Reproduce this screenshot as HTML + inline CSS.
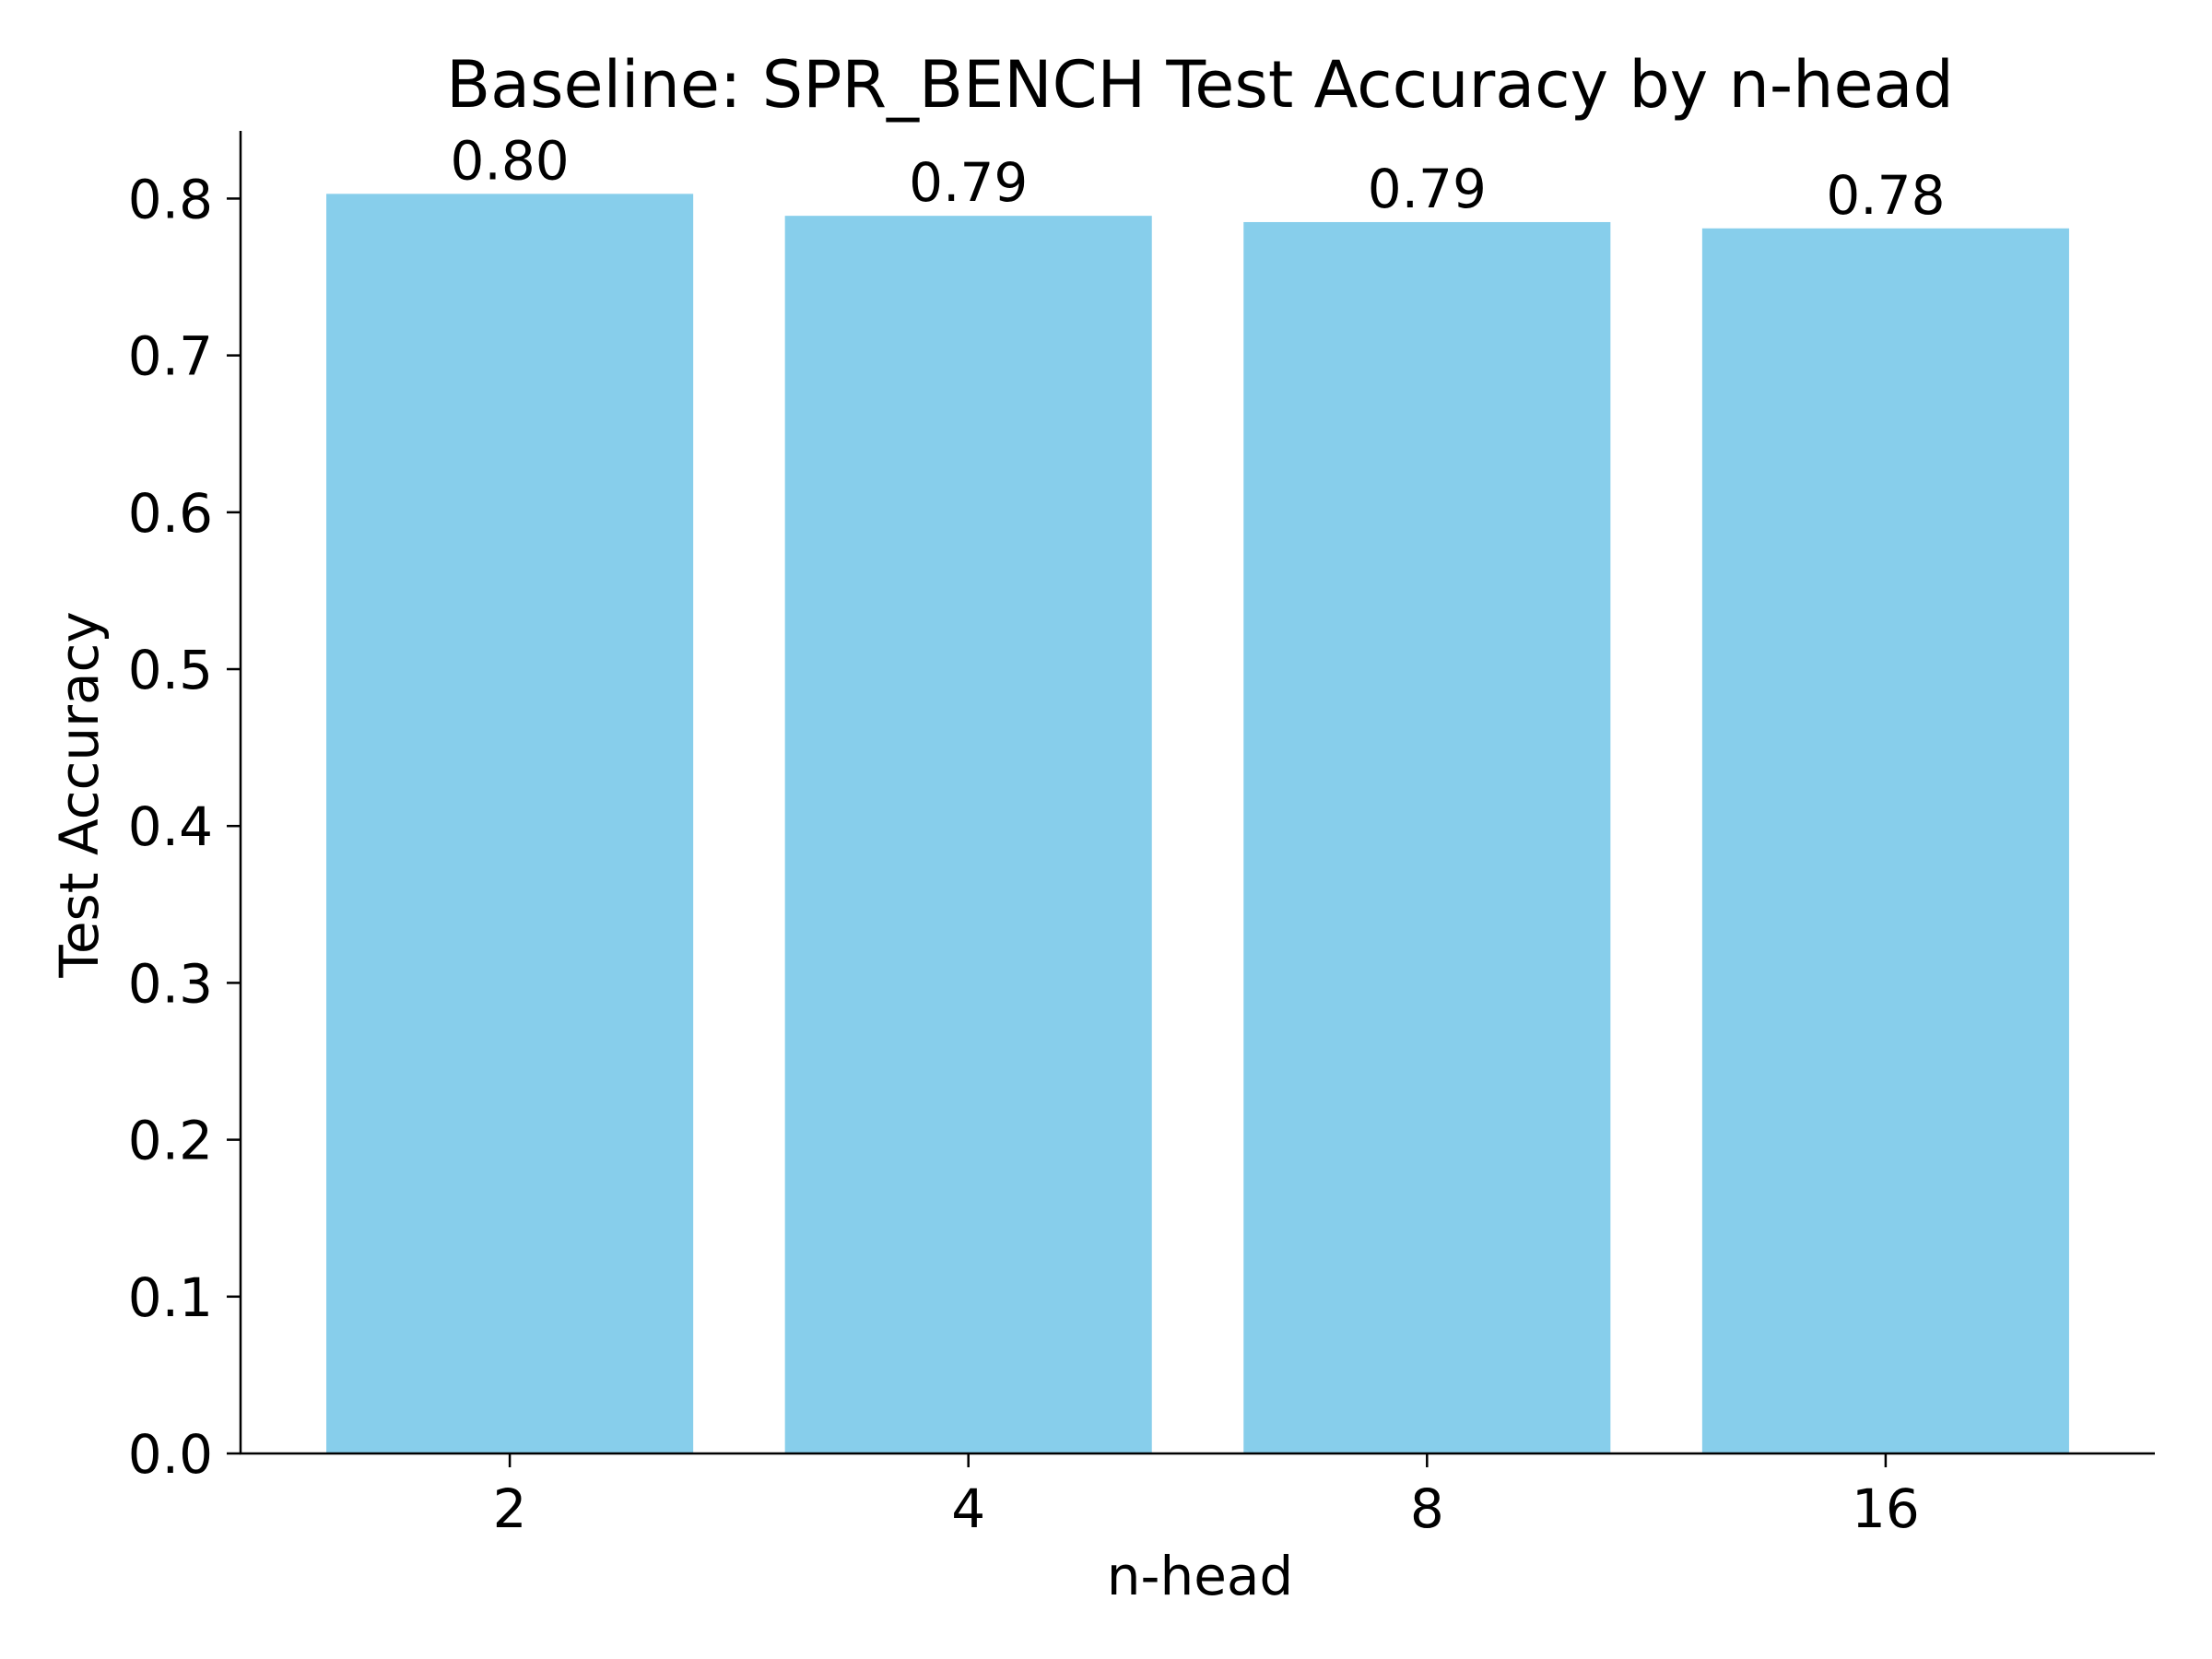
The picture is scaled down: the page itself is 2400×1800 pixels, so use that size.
<!DOCTYPE html>
<html><head><meta charset="utf-8"><style>
html,body{margin:0;padding:0;background:#fff;}
svg{display:block;font-family:"DejaVu Sans","Liberation Sans",sans-serif;}
</style></head><body>
<svg id="chart" width="2400" height="1800" viewBox="0 0 2400 1800" xmlns="http://www.w3.org/2000/svg">
<rect width="2400" height="1800" fill="#fff"/>
<text x="1302" y="116" text-anchor="middle" font-size="70" fill="#000">Baseline: SPR_BENCH Test Accuracy by n-head</text>
<text x="1302" y="1730" text-anchor="middle" font-size="58" fill="#000">n-head</text>
<text transform="translate(106,862) rotate(-90)" text-anchor="middle" font-size="58" fill="#000">Test Accuracy</text>
<g id="bars"></g>
<g id="yticks"></g>
<g id="xticks"></g>
<line x1="261" y1="142" x2="261" y2="1578" stroke="#000" stroke-width="2.5"/>
<line x1="260" y1="1577" x2="2338" y2="1577" stroke="#000" stroke-width="2.5"/>
</svg>
<script>
const categories = ["2", "4", "8", "16"];
const values = [0.803, 0.789, 0.785, 0.781];
const valueLabels = ["0.80", "0.79", "0.79", "0.78"];
const yTicks = [0.0, 0.1, 0.2, 0.3, 0.4, 0.5, 0.6, 0.7, 0.8];
const yTickLabels = ["0.0", "0.1", "0.2", "0.3", "0.4", "0.5", "0.6", "0.7", "0.8"];

const NS = "http://www.w3.org/2000/svg";
const L = 261, R = 2338, B = 1577, T = 142;
const yMax = Math.max(...values) * 1.05;
function y(v){ return B - (v / yMax) * (B - T); }
const step = (R - L) / (categories.length - 1 + 1.174);
function x(i){ return L + (0.587 + i) * step; }
const bw = 0.8 * step;

const bars = document.getElementById('bars');
values.forEach((v, i) => {
  const r = document.createElementNS(NS, 'rect');
  r.setAttribute('x', x(i) - bw / 2);
  r.setAttribute('y', y(v));
  r.setAttribute('width', bw);
  r.setAttribute('height', B - y(v));
  r.setAttribute('fill', '#87ceeb');
  
  
  bars.appendChild(r);
  const t = document.createElementNS(NS, 'text');
  t.setAttribute('x', x(i));
  t.setAttribute('y', y(v) - 16);
  t.setAttribute('text-anchor', 'middle');
  t.setAttribute('font-size', '58');
  t.textContent = valueLabels[i];
  
  
  bars.appendChild(t);
});

const yg = document.getElementById('yticks');
yTicks.forEach((v, i) => {
  const ln = document.createElementNS(NS, 'line');
  ln.setAttribute('x1', L - 15); ln.setAttribute('x2', L);
  ln.setAttribute('y1', y(v)); ln.setAttribute('y2', y(v));
  ln.setAttribute('stroke', '#000'); ln.setAttribute('stroke-width', '2.5');
  
  
  yg.appendChild(ln);
  const t = document.createElementNS(NS, 'text');
  t.setAttribute('x', L - 30);
  t.setAttribute('y', y(v) + 21);
  t.setAttribute('text-anchor', 'end');
  t.setAttribute('font-size', '58');
  t.textContent = yTickLabels[i];
  
  
  yg.appendChild(t);
});

const xg = document.getElementById('xticks');
categories.forEach((c, i) => {
  const ln = document.createElementNS(NS, 'line');
  ln.setAttribute('x1', x(i)); ln.setAttribute('x2', x(i));
  ln.setAttribute('y1', B); ln.setAttribute('y2', B + 15);
  ln.setAttribute('stroke', '#000'); ln.setAttribute('stroke-width', '2.5');
  
  
  xg.appendChild(ln);
  const t = document.createElementNS(NS, 'text');
  t.setAttribute('x', x(i));
  t.setAttribute('y', B + 80);
  t.setAttribute('text-anchor', 'middle');
  t.setAttribute('font-size', '58');
  t.textContent = c;
  
  
  xg.appendChild(t);
});
</script>
</body></html>
